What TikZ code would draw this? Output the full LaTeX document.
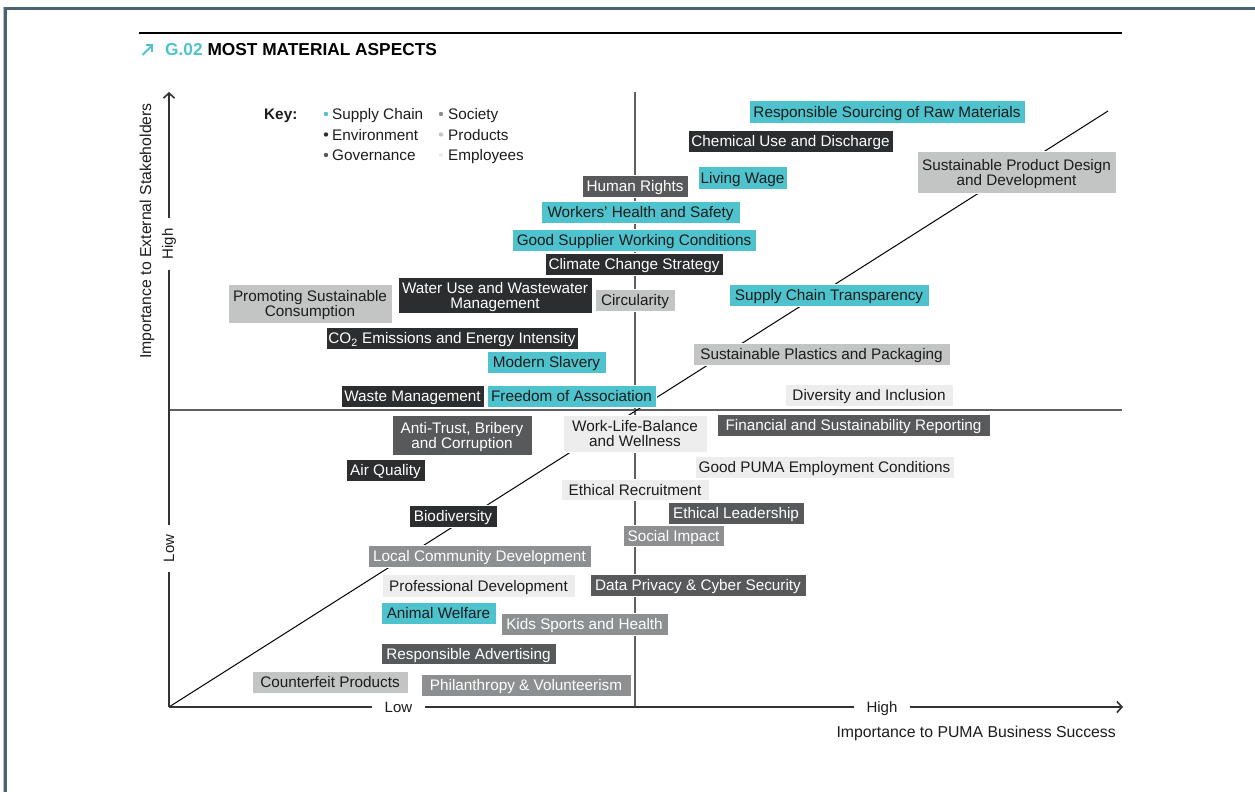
\documentclass[tikz,border=0pt]{standalone}
\usepackage{fontspec}
\setmainfont{Liberation Sans}
\usetikzlibrary{arrows.meta}
\definecolor{sc}{HTML}{4FC3CD}
\definecolor{env}{HTML}{2B2D2F}
\definecolor{gov}{HTML}{58595B}
\definecolor{soc}{HTML}{8E8F90}
\definecolor{prod}{HTML}{C3C4C4}
\definecolor{empl}{HTML}{EDEDED}
\definecolor{framec}{HTML}{4A6373}
\definecolor{axisc}{HTML}{333333}
\definecolor{quadc}{HTML}{606060}
\definecolor{txt}{HTML}{1C1C1C}
\begin{document}
\begin{tikzpicture}[x=1pt,y=-1pt,
  wh/.style 2 args={minimum width=#1pt, minimum height=#2pt},
  box/.style={inner sep=0pt, align=center, draw=white, line width=0.7pt, text depth=0pt,
    font=\fontsize{15.3}{15}\selectfont},
  bsc/.style={box, fill=sc, text=txt},
  benv/.style={box, fill=env, text=white},
  bgov/.style={box, fill=gov, text=white},
  bsoc/.style={box, fill=soc, text=white},
  bprod/.style={box, fill=prod, text=txt},
  bempl/.style={box, fill=empl, text=txt},
  lbl/.style={font=\fontsize{15.3}{15}\selectfont, text=txt, inner sep=0pt, text depth=0pt},
  ttl/.style={font=\fontsize{15.8}{16}\selectfont, text=txt, inner sep=0pt},
  axlbl/.style={font=\fontsize{15}{15}\selectfont, text=txt, inner xsep=10pt, inner ysep=0pt},
  axline/.style={draw=axisc, line width=1.8pt},
  quad/.style={draw=quadc, line width=1.6pt},
  tip/.style={-{Straight Barb[length=5pt,width=11pt,line width=1.6pt]}}
]
\useasboundingbox (0,0) rectangle (1255,792);
% frame
\draw[black!25, line width=1pt] (3,792) -- (3,7);
\draw[framec, line width=3pt] (5.5,792) -- (5.5,8.5) -- (1255,8.5);
% title
\coordinate (ruleL) at (139,33);
\coordinate (ruleR) at (1122,33);
\draw[black, line width=2pt] (ruleL) -- (ruleR);
\coordinate (arrA) at (142.5,55);
\coordinate (arrB) at (153,44.5);
\draw[sc, line width=2pt, -{Straight Barb[length=4.5pt,width=9pt,line width=2pt]}] (arrA) -- (arrB);
\node[anchor=west, inner sep=0pt, font=\fontsize{17.3}{18}\bfseries\selectfont, text=black] (title) at (165,49.5) {\textcolor{sc}{G.02} MOST MATERIAL ASPECTS};
% key
\node[lbl, anchor=west, font=\fontsize{15.3}{15}\bfseries\selectfont] (key) at (264,114) {Key:};
\fill[sc] (326,114) circle (2.2);
\fill[env] (326,134.5) circle (2.2);
\fill[gov] (326,155) circle (2.2);
\fill[soc] (441,114) circle (2.2);
\fill[prod] (441,134.5) circle (2.2);
\fill[empl] (441,155) circle (2.2);
\node[lbl, anchor=west] (k1) at (332,114) {Supply Chain};
\node[lbl, anchor=west] (k2) at (332,134.5) {Environment};
\node[lbl, anchor=west] (k3) at (332,155) {Governance};
\node[lbl, anchor=west] (k4) at (448,114) {Society};
\node[lbl, anchor=west] (k5) at (448,134.5) {Products};
\node[lbl, anchor=west] (k6) at (448,155) {Employees};
% quadrant lines
\coordinate (O) at (169,707);
\coordinate (vtop) at (635,92);
\coordinate (vbot) at (635,707);
\coordinate (hl) at (169,410);
\coordinate (hr) at (1122,410);
\draw[quad] (vtop) -- (vbot);
\draw[quad] (hl) -- (hr);
% diagonal
\coordinate (diagEnd) at (1108,111);
\draw[black, line width=1pt] (O) -- (diagEnd);
% axes
\node[axlbl, rotate=90] (yhigh) at (169,244) {High};
\node[axlbl, rotate=90] (ylow) at (169,548.5) {Low};
\coordinate (ytop) at (169,92);
\draw[axline] (O) -- (ylow);
\draw[axline] (ylow) -- (yhigh);
\draw[axline, tip] (yhigh) -- (ytop);
\node[axlbl, inner xsep=13pt, text depth=0pt] (xlow) at (398.5,707) {Low};
\node[axlbl, inner xsep=12pt, text depth=0pt] (xhigh) at (882,707) {High};
\coordinate (xend) at (1123,707);
\draw[axline] (O) -- (xlow);
\draw[axline] (xlow) -- (xhigh);
\draw[axline, tip] (xhigh) -- (xend);
\node[ttl, rotate=90] (ytitle) at (147,231) {Importance to External Stakeholders};
\node[ttl, anchor=east] (xtitle) at (1116,733) {Importance to PUMA Business Success};
% boxes
\node[bsc, wh={276}{23}] (rs) at (887,111.5) {Responsible Sourcing of Raw Materials};
\node[benv, wh={205}{22}] (cud) at (790.5,141) {Chemical Use and Discharge};
\node[bprod, wh={199}{42}] (spd) at (1016.5,172) {Sustainable Product Design\\and Development};
\node[bsc, wh={89}{23}] (lw) at (742.5,177.5) {Living Wage};
\node[bgov, wh={106}{22}] (hrts) at (635,186) {Human Rights};
\node[bsc, wh={199}{22}] (whs) at (640.5,212) {Workers’ Health and Safety};
\node[bsc, wh={244}{22}] (gsw) at (634,240) {Good Supplier Working Conditions};
\node[benv, wh={178}{22}] (ccs) at (634,264) {Climate Change Strategy};
\node[bprod, wh={164}{39}] (psc) at (310,303.5) {Promoting Sustainable\\Consumption};
\node[benv, wh={194}{36}] (wuw) at (495,295) {Water Use and Wastewater\\Management};
\node[bprod, wh={80}{22}] (circ) at (635,300) {Circularity};
\node[bsc, wh={200}{22}] (sct) at (829,295) {Supply Chain Transparency};
\node[benv, wh={252}{22}] (co2) at (452,338) {CO\textsubscript{2} Emissions and Energy Intensity};
\node[bsc, wh={119}{22}] (ms) at (546.5,362) {Modern Slavery};
\node[bprod, wh={257}{22}] (spp) at (821.5,354) {Sustainable Plastics and Packaging};
\node[benv, wh={143}{22}] (wm) at (412.5,396) {Waste Management};
\node[bsc, wh={169}{22}] (foa) at (571.5,396) {Freedom of Association};
\node[bempl, wh={168}{22}] (di) at (869,395) {Diversity and Inclusion};
\node[bgov, wh={140}{40}] (atb) at (462,435) {Anti-Trust, Bribery\\and Corruption};
\node[bempl, wh={144}{37}] (wlb) at (635,433.5) {Work-Life-Balance\\and Wellness};
\node[bgov, wh={273}{22}] (fsr) at (853.5,425) {Financial and Sustainability Reporting};
\node[benv, wh={79}{22}] (aq) at (385.5,470) {Air Quality};
\node[bempl, wh={259}{22}] (gpe) at (824.5,467) {Good PUMA Employment Conditions};
\node[bempl, wh={148}{21}] (er) at (635,489.5) {Ethical Recruitment};
\node[benv, wh={88}{22}] (bio) at (453,516) {Biodiversity};
\node[bgov, wh={136}{22}] (el) at (736,513) {Ethical Leadership};
\node[bsoc, wh={101}{21}] (si) at (673.5,535.5) {Social Impact};
\node[bsoc, wh={223}{22}] (lcd) at (479.5,556) {Local Community Development};
\node[bempl, wh={193}{23}] (pd) at (478.5,585.5) {Professional Development};
\node[bgov, wh={216}{22}] (dp) at (698,585) {Data Privacy \& Cyber Security};
\node[bsc, wh={115}{22}] (aw) at (438.5,613) {Animal Welfare};
\node[bsoc, wh={167}{22}] (ksh) at (584.5,624) {Kids Sports and Health};
\node[bgov, wh={175}{21}] (ra) at (468.5,653.5) {Responsible Advertising};
\node[bprod, wh={156}{22}] (cp) at (330,682) {Counterfeit Products};
\node[bsoc, wh={210}{22}] (pv) at (526,685) {Philanthropy \& Volunteerism};
\end{tikzpicture}
\end{document}
